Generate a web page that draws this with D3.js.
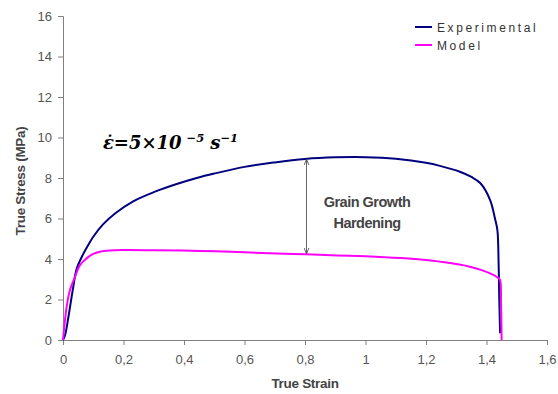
<!DOCTYPE html>
<html>
<head>
<meta charset="utf-8">
<script src="https://cdn.jsdelivr.net/npm/d3@7"></script>
<style>
  body { margin: 0; background: #fff; }
  svg { display: block; font-family: "Liberation Sans", Arial, sans-serif; }
</style>
</head>
<body>
<div id="chart"></div>
<script>
// data
const expStrain = [0, 0.007, 0.018, 0.034, 0.045, 0.062, 0.08, 0.1, 0.133, 0.172, 0.232, 0.3, 0.376, 0.442, 0.5, 0.6, 0.7, 0.8, 0.9, 1.0, 1.1, 1.2, 1.246, 1.312, 1.35, 1.38, 1.412, 1.428, 1.436, 1.44, 1.442, 1.445];
const expStress = [0, 0.25, 1.15, 2.63, 3.5, 4.1, 4.6, 5.1, 5.72, 6.25, 6.85, 7.3, 7.7, 8.0, 8.22, 8.55, 8.77, 8.94, 9.02, 9.03, 8.95, 8.75, 8.6, 8.31, 8.05, 7.74, 6.91, 6.0, 5.43, 3.79, 2.14, 0.33];

const modStrain = [0, 0.012, 0.023, 0.04, 0.056, 0.078, 0.1, 0.122, 0.155, 0.2, 0.3, 0.453, 0.6, 0.8, 1.0, 1.2, 1.246, 1.345, 1.412, 1.44, 1.445, 1.448, 1.45];
const modStress = [0, 1.64, 2.47, 3.13, 3.7, 4.03, 4.25, 4.36, 4.42, 4.44, 4.43, 4.4, 4.33, 4.23, 4.13, 3.95, 3.87, 3.62, 3.29, 3.05, 2.96, 1.8, 0];

const xTicks = [0, 0.2, 0.4, 0.6, 0.8, 1, 1.2, 1.4, 1.6];
const yTicks = [0, 2, 4, 6, 8, 10, 12, 14, 16];

const seriesNames = ["Experimental", "Model"];
const seriesColors = ["#000080", "#ff00ff"];

const width = 558, height = 394;
const margin = { top: 16, right: 11, bottom: 54, left: 63 };
const w = width - margin.left - margin.right;
const h = height - margin.top - margin.bottom;

const svg = d3.select("#chart").append("svg")
    .attr("width", width)
    .attr("height", height);

const g = svg.append("g")
    .attr("transform", `translate(${margin.left},${margin.top})`);

const x = d3.scaleLinear().domain([0, 1.6]).range([0, w]);
const y = d3.scaleLinear().domain([0, 16]).range([h, 0]);

const fmt = d => String(d).replace(".", ",");

// axes
const xAxis = g.append("g")
    .attr("transform", `translate(0,${h})`)
    .call(d3.axisBottom(x).tickValues(xTicks).tickFormat(fmt).tickSizeOuter(0).tickSize(5).tickPadding(10));
const yAxis = g.append("g")
    .call(d3.axisLeft(y).tickValues(yTicks).tickSizeOuter(0).tickSize(5).tickPadding(6));

[xAxis, yAxis].forEach(ax => {
    ax.selectAll(".domain, .tick line").attr("stroke", "#808080");
    ax.selectAll("text")
        .attr("fill", "#555")
        .style("font-size", "13px")
        .style("font-family", "Liberation Sans, Arial, sans-serif");
});

// axis titles
svg.append("text")
    .attr("x", margin.left + x(0.8))
    .attr("y", 388)
    .attr("text-anchor", "middle")
    .attr("fill", "#444")
    .style("font-size", "13.5px")
    .style("font-weight", "bold")
    .style("letter-spacing", "-0.3px")
    .text("True Strain");

svg.append("text")
    .attr("transform", `translate(25,181) rotate(-90)`)
    .attr("text-anchor", "middle")
    .attr("fill", "#444")
    .style("font-size", "13.5px")
    .style("font-weight", "bold")
    .style("letter-spacing", "-0.3px")
    .text("True Stress (MPa)");

// curves
const line = d3.line()
    .x(d => x(d[0]))
    .y(d => y(d[1]))
    .curve(d3.curveCatmullRom.alpha(0.5));

const series = [
    d3.zip(expStrain, expStress),
    d3.zip(modStrain, modStress)
];

series.forEach((pts, i) => {
    g.append("path")
        .datum(pts)
        .attr("fill", "none")
        .attr("stroke", seriesColors[i])
        .attr("stroke-width", 2)
        .attr("stroke-linejoin", "round")
        .attr("d", line);
});

// annotation arrow
const defs = svg.append("defs");
defs.append("marker")
    .attr("id", "ah")
    .attr("viewBox", "0 0 10 10")
    .attr("refX", 9).attr("refY", 5)
    .attr("markerWidth", 6).attr("markerHeight", 6)
    .attr("orient", "auto-start-reverse")
    .append("path")
    .attr("d", "M0,1 L10,5 L0,9")
    .attr("fill", "none")
    .attr("stroke", "#555")
    .attr("stroke-width", 1.5);

g.append("line")
    .attr("x1", x(0.805)).attr("x2", x(0.805))
    .attr("y1", y(8.95) + 1).attr("y2", y(4.23) - 1)
    .attr("stroke", "#666")
    .attr("stroke-width", 1)
    .attr("marker-start", "url(#ah)")
    .attr("marker-end", "url(#ah)");

const note = g.append("text")
    .attr("text-anchor", "middle")
    .attr("fill", "#444")
    .style("font-size", "14.5px")
    .style("font-weight", "bold")
    .style("letter-spacing", "-0.5px");
note.append("tspan").attr("x", x(1.005)).attr("y", y(6.55)).text("Grain Growth");
note.append("tspan").attr("x", x(1.005)).attr("y", y(5.55)).text("Hardening");

// strain rate label
const rate = g.append("text")
    .attr("x", x(0.132))
    .attr("y", y(9.45))
    .attr("fill", "#000")
    .style("font-family", "DejaVu Serif, serif")
    .style("font-size", "18px")
    .style("font-weight", "bold")
    .style("font-style", "italic");
rate.append("tspan").text("\u03b5\u0307=5\u00d710");
rate.append("tspan").attr("dx", 5).attr("dy", -7).style("font-size", "11.5px").text("\u22125");
rate.append("tspan").attr("dx", 6).attr("dy", 7).text("s");
rate.append("tspan").attr("dy", -7).style("font-size", "11.5px").text("\u22121");

// legend
const legend = svg.append("g").attr("transform", "translate(415,27)");
seriesNames.forEach((name, i) => {
    const row = legend.append("g").attr("transform", `translate(0,${i * 18})`);
    row.append("line")
        .attr("x1", 0).attr("x2", 17)
        .attr("stroke", seriesColors[i])
        .attr("stroke-width", 2);
    row.append("text")
        .attr("x", 22).attr("y", 4.5)
        .attr("fill", "#333")
        .style("font-size", "12px")
        .style("letter-spacing", "2.6px")
        .text(name);
});
</script>
</body>
</html>
